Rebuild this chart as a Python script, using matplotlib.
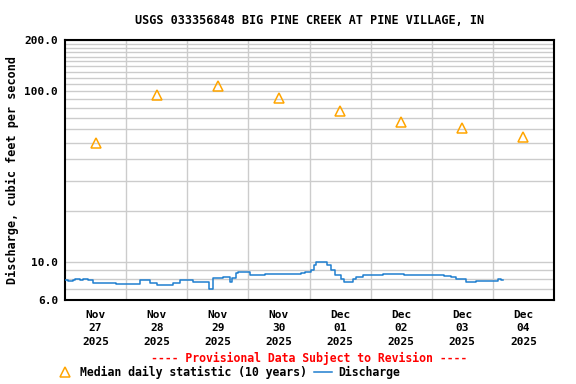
import matplotlib
matplotlib.use("Agg")
import matplotlib.pyplot as plt
from matplotlib.lines import Line2D
from matplotlib.ticker import FixedLocator, NullFormatter

# ---- data ----
day_labels = ["Nov\n27\n2025", "Nov\n28\n2025", "Nov\n29\n2025", "Nov\n30\n2025",
              "Dec\n01\n2025", "Dec\n02\n2025", "Dec\n03\n2025", "Dec\n04\n2025"]
median_hours = [12, 36, 60, 84, 108, 132, 156, 180]
median_values = [50, 95, 107, 91, 77, 66, 61, 54]

# discharge (hours since Nov 27 00:00, cfs)
q_hours = [0, 1, 3, 4, 6, 7, 9, 11, 20, 29.5, 33.4, 36.2, 40, 42.5, 45.2, 50.4, 55.6,
           56.4, 58, 62, 64.9, 65.7, 67.3, 68, 72.8, 78.7, 86, 92.5, 94.4, 96.4,
           97.6, 98.4, 103, 104.6, 106.2, 108.2, 109.4, 112.9, 114.1, 117.2,
           125, 133, 141, 148.7, 151.5, 153.4, 157.4, 161.3, 165.2, 170, 171.1, 171.9]
q_values = [7.9, 7.75, 7.9, 8.0, 7.9, 8.0, 7.9, 7.5, 7.45, 7.85, 7.5, 7.35, 7.3, 7.5, 7.85, 7.7, 7.7,
            7.0, 8.1, 8.15, 7.7, 8.1, 8.6, 8.8, 8.4, 8.5, 8.55, 8.6, 8.7, 9.0,
            9.6, 10.0, 9.6, 9.0, 8.4, 8.0, 7.7, 8.0, 8.2, 8.45,
            8.5, 8.45, 8.45, 8.3, 8.2, 8.0, 7.7, 7.75, 7.8, 8.0, 7.9, 7.9]

ytick_vals = [6, 10, 100, 200]
ytick_labels = ["6.0", "10.0", "100.0", "200.0"]

FONT = "DejaVu Sans Mono"

fig = plt.figure(figsize=(5.76, 3.84), dpi=100)
ax = fig.add_axes([65/576, 1-300/384, (554-65)/576, (300-40)/384])

ax.plot(q_hours, q_values, color="#1f7fcf", lw=1.1, drawstyle="steps-post", zorder=3)
ax.plot(median_hours, median_values, linestyle="none", marker="^", markersize=7.5,
        markerfacecolor="none", markeredgecolor="#FFA500", markeredgewidth=1.1, zorder=4)

ax.set_yscale("log")
ax.set_ylim(6, 200)
ax.set_xlim(0, 192)

ax.yaxis.set_major_locator(FixedLocator(ytick_vals))
ax.set_yticklabels(ytick_labels)
minor_y = [7, 8, 9] + list(range(20, 100, 10)) + list(range(110, 200, 10))
ax.yaxis.set_minor_locator(FixedLocator(minor_y))
ax.yaxis.set_minor_formatter(NullFormatter())

ax.set_xticks(median_hours)
ax.set_xticklabels(day_labels, linespacing=1.45)
ax.set_xticks([24 * k for k in range(1, 8)], minor=True)

ax.grid(True, which="both", color="#cccccc", lw=1.0, zorder=0)
ax.grid(False, which="major", axis="x")
ax.set_axisbelow(True)
ax.tick_params(which="both", length=0)
ax.tick_params(axis="x", pad=7)
ax.tick_params(axis="y", pad=5)
for lab in ax.get_xticklabels() + ax.get_yticklabels():
    lab.set_fontfamily(FONT)
    lab.set_fontweight("bold")
    lab.set_fontsize(8)
for s in ax.spines.values():
    s.set_linewidth(1.5)

ax.set_ylabel("Discharge, cubic feet per second", fontfamily=FONT, fontweight="bold",
              fontsize=8.5, labelpad=4)

fig.text(309.5/576, 1-20/384, "USGS 033356848 BIG PINE CREEK AT PINE VILLAGE, IN",
         ha="center", va="center", fontfamily=FONT, fontweight="bold", fontsize=8.5)
fig.text(309.5/576, 1-358/384, "---- Provisional Data Subject to Revision ----",
         ha="center", va="center", fontfamily=FONT, fontweight="bold", fontsize=8.3,
         color="red")

handles = [Line2D([], [], linestyle="none", marker="^", markersize=7.5, markerfacecolor="none",
                  markeredgecolor="#FFA500", markeredgewidth=1.1),
           Line2D([], [], color="#1f7fcf", lw=1.1)]
labels = ["Median daily statistic (10 years)", "Discharge"]
fig.legend(handles, labels, loc="center", bbox_to_anchor=(228/576, 1-372/384), ncol=2,
           frameon=False, prop={"family": FONT, "weight": "bold", "size": 8.3},
           handlelength=1.6, handletextpad=0.5, columnspacing=0.6, borderpad=0)

fig.savefig("out.png", dpi=100)
